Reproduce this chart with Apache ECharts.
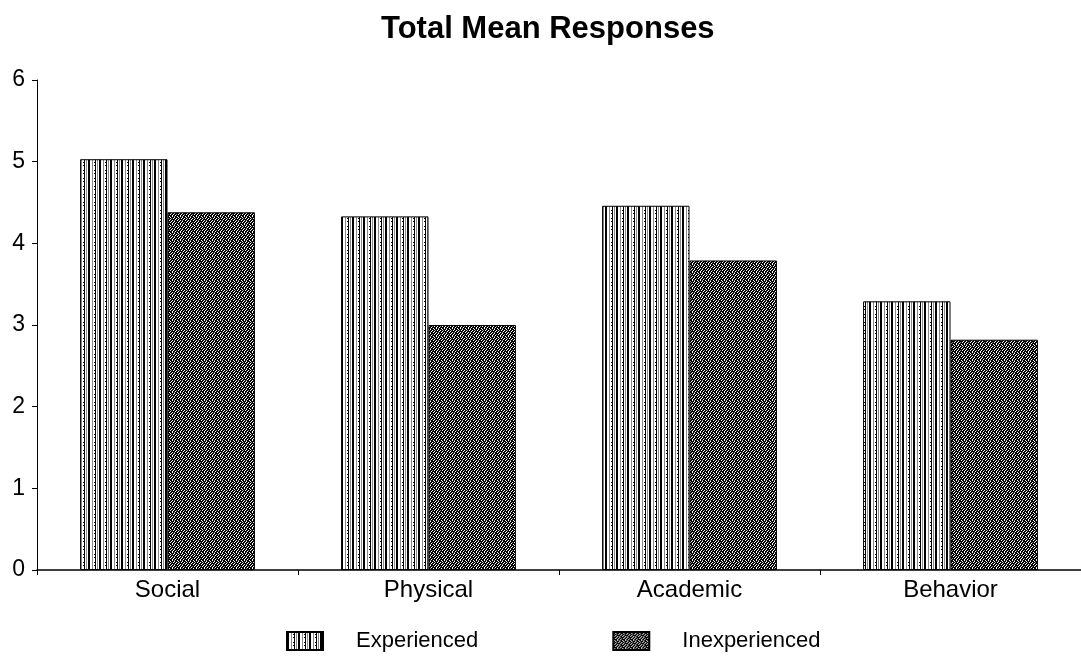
<!DOCTYPE html>
<html>
<head>
<meta charset="utf-8">
<script src="https://cdn.jsdelivr.net/npm/echarts@6/dist/echarts.min.js"></script>
<style>
html,body{margin:0;padding:0;background:#fff;}
#chart{width:1081px;height:661px;}
</style>
</head>
<body>
<div id="chart"></div>
<script>
const categories = ['Social', 'Physical', 'Academic', 'Behavior'];
const experienced = [5.03, 4.33, 4.46, 3.29];
const inexperienced = [4.38, 3.0, 3.79, 2.82];
const seriesNames = ['Experienced', 'Inexperienced'];
const yTicks = [0, 1, 2, 3, 4, 5, 6];

function makePattern(rows, palette) {
  const c = document.createElement('canvas');
  c.width = rows[0].length;
  c.height = rows.length;
  const ctx = c.getContext('2d');
  for (let y = 0; y < rows.length; y++) {
    for (let x = 0; x < rows[y].length; x++) {
      ctx.fillStyle = palette[rows[y][x]];
      ctx.fillRect(x, y, 1, 1);
    }
  }
  return { image: c, repeat: 'repeat' };
}
const pal = { 'b': '#000000', 'w': '#ffffff', 'g': '#8a8a8a' };
const stripeRows = [
  'bbwwgwwbwgw',
  'bbwwgwwbwgw',
  'bbwwgwbbwgw',
  'bbwwgwwbwgw',
  'bbwwgwwbwgw',
  'bbwwgwbbwgw',
  'bbwwgwwbwgw',
  'bbwwgwwbwgw'
];
const dotRows = [
  'bwbbwbgb',
  'bbwbbbwb',
  'wbbgbwbb',
  'bbwbbbbw',
  'bwbbwbgb',
  'bbbwbbwb',
  'gbwbbwbb',
  'bbbbwbbw'
];
const expPattern = makePattern(stripeRows, pal);
const inexpPattern = makePattern(dotRows, pal);

const chart = echarts.init(document.getElementById('chart'));
chart.setOption({
  backgroundColor: '#ffffff',
  animation: false,
  title: {
    text: 'Total Mean Responses',
    left: 376,
    top: 9,
    textStyle: { fontFamily: 'Liberation Sans', fontWeight: 'bold', fontSize: 31, color: '#000' }
  },
  legend: {
    bottom: 4,
    left: 281,
    itemWidth: 36,
    itemHeight: 18,
    itemGap: 134,
    icon: 'rect',
    textStyle: { fontFamily: 'Liberation Sans', fontSize: 22, color: '#000', padding: [0, 0, 0, 28] },
    data: seriesNames
  },
  grid: { left: 37, right: -10, top: 80, bottom: 91, containLabel: false },
  xAxis: {
    type: 'category',
    data: categories,
    axisLine: { lineStyle: { color: '#000', width: 1.5 } },
    axisTick: { show: true, inside: false, length: 5, lineStyle: { color: '#000' } },
    axisLabel: { fontFamily: 'Liberation Sans', fontSize: 24, color: '#000', margin: 8 }
  },
  yAxis: {
    type: 'value',
    min: 0,
    max: 6,
    interval: 1,
    splitLine: { show: false },
    axisLine: { show: true, lineStyle: { color: '#000', width: 1 } },
    axisTick: { show: true, length: 5, lineStyle: { color: '#000' } },
    axisLabel: {
      fontFamily: 'Liberation Sans', fontSize: 23, color: '#000', margin: 12,
      formatter: v => yTicks.includes(v) ? String(v) : ''
    }
  },
  series: [
    {
      name: seriesNames[0], type: 'bar', data: experienced,
      barGap: '0%', barCategoryGap: '33%',
      itemStyle: { color: expPattern, borderColor: '#000', borderWidth: 1 }
    },
    {
      name: seriesNames[1], type: 'bar', data: inexperienced,
      barGap: '0%', barCategoryGap: '33%',
      itemStyle: { color: inexpPattern, borderColor: '#000', borderWidth: 1 }
    }
  ]
});
</script>
</body>
</html>
